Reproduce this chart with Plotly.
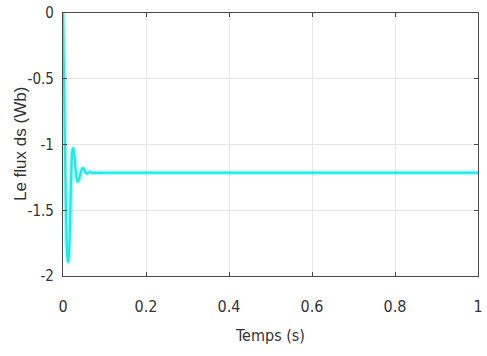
import plotly.graph_objects as go

t = [0, 0.002, 0.004, 0.006, 0.008, 0.010, 0.012, 0.013, 0.015, 0.017, 0.019, 0.021, 0.023, 0.025,
     0.027, 0.029, 0.031, 0.033, 0.035, 0.037, 0.039, 0.042, 0.045, 0.048, 0.051, 0.054, 0.057,
     0.061, 0.065, 0.07, 0.1, 0.2, 0.3, 0.4, 0.5, 0.6, 0.7, 0.8, 0.9, 1.0]
flux = [0, -0.40, -0.85, -1.28, -1.62, -1.83, -1.89, -1.89, -1.80, -1.58, -1.32, -1.12, -1.04, -1.03,
        -1.07, -1.14, -1.21, -1.26, -1.28, -1.28, -1.26, -1.22, -1.19, -1.18, -1.19, -1.21, -1.22,
        -1.215, -1.21, -1.215, -1.215, -1.215, -1.215, -1.215, -1.215, -1.215, -1.215, -1.215, -1.215, -1.215]

xticks = [0, 0.2, 0.4, 0.6, 0.8, 1]
xticklabels = ["0", "0.2", "0.4", "0.6", "0.8", "1"]
yticks = [0, -0.5, -1, -1.5, -2]
yticklabels = ["0", "-0.5", "-1", "-1.5", "-2"]

fig = go.Figure()
fig.add_trace(go.Scatter(x=t, y=flux, mode="lines",
                         line=dict(color="rgba(30,232,232,0.35)", width=5, shape="spline", smoothing=0.6),
                         showlegend=False, hoverinfo="skip"))
fig.add_trace(go.Scatter(x=t, y=flux, mode="lines",
                         line=dict(color="#1ee8e8", width=2.2, shape="spline", smoothing=0.6),
                         showlegend=False))

narrow = "DejaVu Sans Condensed, Liberation Sans Narrow, Liberation Sans, Arial"
fig.update_layout(
    width=487, height=356,
    margin=dict(l=63, r=4, t=13, b=80),
    paper_bgcolor="white", plot_bgcolor="white",
    xaxis=dict(range=[0, 1], tickvals=xticks, ticktext=xticklabels,
               showgrid=True, gridcolor="#e6e6e6", gridwidth=1,
               showline=True, linecolor="#4a4a4a", linewidth=1.2, mirror="ticks",
               ticks="inside", ticklen=4, tickcolor="#4a4a4a", zeroline=False,
               tickfont=dict(family=narrow, size=16, color="#333333"),
               ticklabelstandoff=16, ticklabeloverflow="allow",
               title=dict(text="Temps (s)", font=dict(family=narrow, size=16, color="#333333"),
                          standoff=14)),
    yaxis=dict(range=[-2, 0], tickvals=yticks, ticktext=yticklabels,
               showgrid=True, gridcolor="#e6e6e6", gridwidth=1,
               showline=True, linecolor="#4a4a4a", linewidth=1.2, mirror="ticks",
               ticks="inside", ticklen=4, tickcolor="#4a4a4a", zeroline=False,
               tickfont=dict(family=narrow, size=15, color="#333333"),
               ticklabelstandoff=5, ticklabeloverflow="allow"),
    annotations=[dict(text="Le flux ds (Wb)", textangle=-90, xref="paper", yref="paper",
                      x=(20 - 63) / 420, y=0.5, xanchor="center", yanchor="middle",
                      showarrow=False,
                      font=dict(family="Liberation Sans, Arial", size=17, color="#333333"))],
)

fig.write_html("out.html")
